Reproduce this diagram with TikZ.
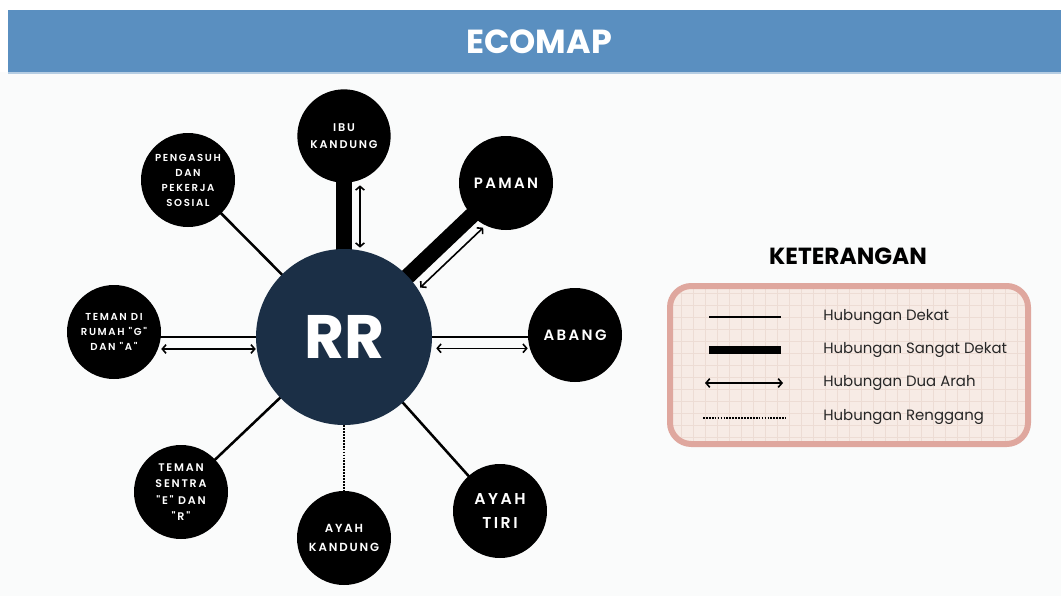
\documentclass[tikz,border=0pt]{standalone}
\usepackage{fontspec}
\setmainfont{Poppins}
\newfontfamily\labelfont[LetterSpace=16]{Poppins SemiBold}
\usetikzlibrary{arrows.meta, calc, backgrounds}
\definecolor{bandblue}{HTML}{5A8FC0}
\definecolor{rrnavy}{HTML}{1B2F46}
\definecolor{paper}{HTML}{FAFBFB}
\definecolor{keyfill}{HTML}{F7EBE5}
\definecolor{keyedge}{HTML}{DFA79E}
\definecolor{keygrid}{HTML}{EDDCD4}

\begin{document}
\begin{tikzpicture}[x=0.75pt, y=-0.75pt,
    person/.style={circle, fill=black, text=white, inner sep=0pt, minimum size=70.5pt, align=center},
    dekat/.style={line width=1.9pt},
    sangat/.style={line width=12pt},
    renggang/.style={line width=1.9pt, dash pattern=on 1.3pt off 0.9pt},
    arr/.style={line width=1.2pt, {Straight Barb[length=2.8pt,width=6.5pt]}-{Straight Barb[length=2.8pt,width=6.5pt]}},
    keytext/.style={anchor=west, inner sep=0pt, font=\fontsize{11.2}{14}\selectfont, text=black!85}]
    \useasboundingbox (0,0) rectangle (1061,596);

    % Page and header band
    \begin{scope}[on background layer]
        \fill[white] (0,0) rectangle (1061,596);
        \fill[paper] (0,72) rectangle (1061,596);
    \end{scope}
    \fill[bandblue] (8,10) rectangle (1061,72);
    \fill[bandblue!45] (8,72) rectangle (1061,74);
    \node[text=white, font=\bfseries\fontsize{25}{30}\selectfont] (title) at (539,42) {ECOMAP};

    % Centre
    \node[circle, fill=rrnavy, text=white, inner sep=0pt, minimum size=132pt, font=\bfseries\fontsize{46}{50}\selectfont] (rr) at (344,337) {RR};

    % Surrounding people
    \node[person, minimum size=70pt, font=\labelfont\fontsize{8.4}{12.75}\selectfont] (ibu) at (344,136) {IBU\\KANDUNG};
    \node[person, font=\labelfont\fontsize{11.2}{14}\selectfont] (paman) at (506,183) {PAMAN};
    \node[person, font=\labelfont\fontsize{7.6}{11.25}\selectfont] (pengasuh) at (188,180) {PENGASUH\\DAN\\PEKERJA\\SOSIAL};
    \node[person, font=\labelfont\fontsize{7.6}{11.5}\selectfont] (rumah) at (114,332) {TEMAN DI\\RUMAH "G"\\DAN "A"};
    \node[person, font=\labelfont\fontsize{11.2}{14}\selectfont] (abang) at (575,335) {ABANG};
    \node[person, font=\labelfont\fontsize{8.3}{12.4}\selectfont] (sentra) at (181,492) {TEMAN\\SENTRA\\"E" DAN\\"R"};
    \node[person, font=\labelfont\fontsize{8.8}{14}\selectfont] (ayahk) at (344,538) {AYAH\\KANDUNG};
    \node[person, font=\labelfont\fontsize{11.8}{17.5}\selectfont] (tiri) at (500,511) {AYAH\\TIRI};

    % Relationship lines
    \begin{scope}[on background layer]
        \draw[sangat] (rr.center) -- (ibu.center);
        \draw[sangat] (rr.center) -- (paman.center);
        \draw[dekat] (rr.center) -- (pengasuh.center);
        \draw[dekat] (rr.center) -- (rr.center -| rumah.center);
        \draw[dekat] (rr.center) -- (rr.center -| abang.center);
        \draw[dekat] (rr.center) -- (sentra.center);
        \draw[dekat] (rr.center) -- (tiri.center);
    \end{scope}
    \draw[renggang] (rr) -- (ayahk);

    % Two-way arrows
    \draw[arr] ($(ibu.center)!37pt!(rr.center)!12pt!90:(rr.center)$) -- ($(rr.center)!67pt!(ibu.center)!12pt!-90:(ibu.center)$);
    \draw[arr] ($(rr.center)!67pt!(paman.center)!12.5pt!-90:(paman.center)$) -- ($(paman.center)!35.5pt!(rr.center)!12.5pt!90:(rr.center)$);
    \draw[arr] ([yshift=-9pt]rr.west) -- ([yshift=-9pt]rr.west -| rumah.east);
    \draw[arr] ([xshift=3pt,yshift=-8.5pt]rr.east) -- ([yshift=-8.5pt]rr.east -| abang.west);

    % Legend
    \node[font=\bfseries\fontsize{17.5}{20}\selectfont] (keterangan) at (848,256) {KETERANGAN};
    \node[draw=keyedge, line width=4.5pt, fill=keyfill, rounded corners=16pt, minimum width=268.5pt, minimum height=118.5pt,
          path picture={\draw[keygrid, line width=0.5pt, step=9pt] (path picture bounding box.south west) grid (path picture bounding box.north east);}] (box) at (849,365) {};
    \node[keytext] (k1) at (823,317) {Hubungan Dekat};
    \node[keytext] (k2) at (823,350) {Hubungan Sangat Dekat};
    \node[keytext] (k3) at (823,383) {Hubungan Dua Arah};
    \node[keytext] (k4) at (823,417) {Hubungan Renggang};
    \coordinate (a1) at (709,317); \coordinate (b1) at (781,317);
    \coordinate (a2) at (709,350); \coordinate (b2) at (781,350);
    \coordinate (a3) at (705,383); \coordinate (b3) at (783,383);
    \coordinate (a4) at (703,418); \coordinate (b4) at (786,418);
    \draw[dekat, line width=1.5pt] (a1) -- (b1);
    \draw[line width=6pt] (a2) -- (b2);
    \draw[arr] (a3) -- (b3);
    \draw[renggang, line width=1.5pt] (a4) -- (b4);
\end{tikzpicture}
\end{document}
